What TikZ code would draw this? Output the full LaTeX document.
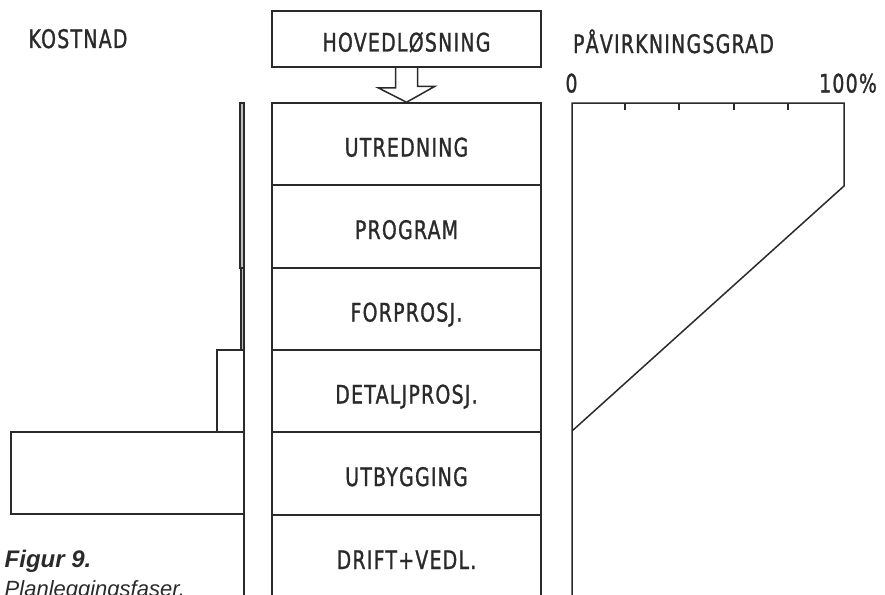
\documentclass[tikz,border=0pt]{standalone}
\usepackage{fontspec}
\setmainfont{DejaVu Sans}
\newfontfamily\lett[FakeStretch=0.74,LetterSpace=5,FakeBold=1.2]{DejaVu Sans}
\newfontfamily\capfont{Liberation Sans}
\definecolor{ink}{HTML}{2A2A2A}
\tikzset{
  lbl/.style={font=\lett\fontsize{25.5}{25.5}\selectfont, text=ink, inner sep=0pt, text height=18pt, text depth=0pt},
  phase/.style={draw=ink, minimum width=269pt, inner sep=0pt, font=\lett\fontsize{25.5}{25.5}\selectfont, text=ink, text height=25pt, text depth=0pt},
  ln/.style={draw=ink, line width=1.5pt},
}
\begin{document}
\begin{tikzpicture}[x=1pt,y=-1pt,line width=1.5pt]
\useasboundingbox (0,0) rectangle (885,594);
% headers
\node[lbl] (kost) at (78,39) {KOSTNAD};
\node[lbl] (pav) at (673.5,44) {PÅVIRKNINGSGRAD};
\node[lbl] (zero) at (571.5,83.5) {0};
\node[lbl] (hundred) at (848,83.5) {100\%};
% top box
\node[phase, minimum height=56pt] (hoved) at (406.5,39) {HOVEDLØSNING};
% phases
\node[phase, minimum height=82pt] (u) at (406.5,144) {UTREDNING};
\node[phase, minimum height=83pt] (p) at (406.5,226.5) {PROGRAM};
\node[phase, minimum height=82pt] (f) at (406.5,309) {FORPROSJ.};
\node[phase, minimum height=82pt] (d) at (406.5,391) {DETALJPROSJ.};
\node[phase, minimum height=83pt] (b) at (406.5,473.5) {UTBYGGING};
\node[phase, minimum height=83pt] (dr) at (406.5,556.5) {DRIFT+VEDL.};
% hollow arrow
\draw[ln, line join=miter] ([xshift=-11pt]hoved.south) -- ++(0,20) -- ++(-17.5,0) -- (u.north)
  -- ++(28.5,-16) -- ++(-17.5,0) -- ([xshift=11pt]hoved.south);
% cost bars
\draw[ln, fill=black!25] (240,103) rectangle (244,268);
\draw[ln, fill=black!25] (241,268) rectangle (244,350);
\draw[ln] (217,350) rectangle (244,432);
\draw[ln] (11,432) rectangle (244,514);
\draw[ln] (244,514) -- (244,598);
% influence chart
\draw[ln, line join=miter] (572,598) -- (572,103) -- (844,103) -- (844,186) -- (572,431);
\foreach \t in {625,679,734,788} \draw[ln] (\t,103) -- (\t,110);
% caption
\node[anchor=base west, inner sep=0pt, text=ink, font=\capfont\bfseries\itshape\fontsize{24}{24}\selectfont] (fig) at (4,567) {Figur 9.};
\node[anchor=base west, inner sep=0pt, text=ink, font=\capfont\itshape\fontsize{22}{22}\selectfont] (cap) at (4,596) {Planleggingsfaser.};
\end{tikzpicture}
\end{document}
